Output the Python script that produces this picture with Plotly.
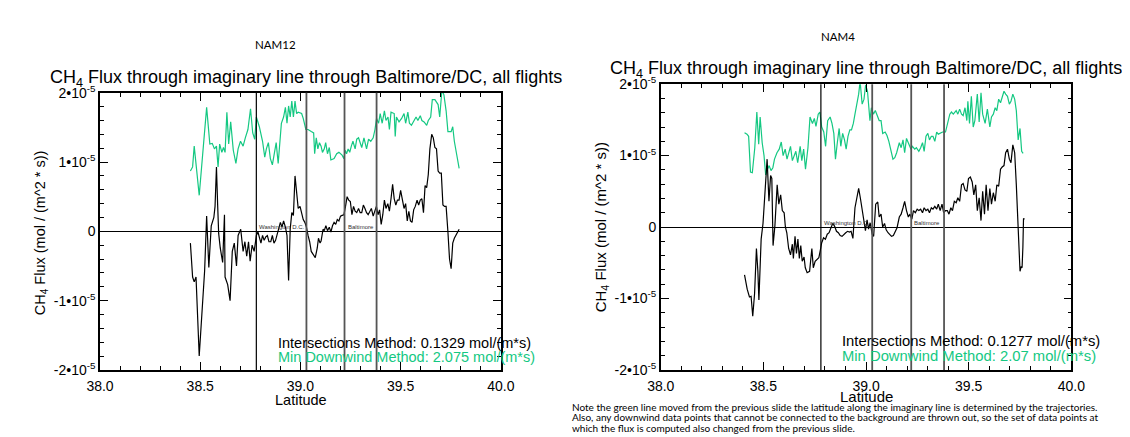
import plotly.graph_objects as go

W, H = 1130, 437
S = 1e-5

# ---------------- data (latitude, flux in units of 1e-5 mol/(m^2 s)) ----------------
lat_green_12 = [38.451,38.462,38.470,38.495,38.532,38.548,38.560,38.571,38.581,38.589,
                38.597,38.608,38.616,38.624,38.633,38.642,38.652,38.665,38.678,38.689,
                38.701,38.714,38.725,38.738,38.751,38.762,38.772,38.780,38.795,38.811,
                38.822,38.830,38.840,38.850,38.860,38.871,38.879,38.889,38.897,38.905,
                38.916,38.925,38.933,38.941,38.949,38.957,38.965,38.973,38.981,38.989,
                39.006,39.014,39.027,39.038,39.054,39.066,39.071,39.079,39.087,39.095,
                39.103,39.110,39.119,39.126,39.135,39.144,39.152,39.168,39.181,39.192,
                39.208,39.217,39.223,39.230,39.238,39.246,39.254,39.262,39.273,39.281,
                39.290,39.298,39.306,39.317,39.330,39.340,39.351,39.363,39.372,39.380,
                39.390,39.398,39.408,39.419,39.427,39.437,39.444,39.452,39.468,39.473,
                39.479,39.492,39.505,39.517,39.525,39.536,39.544,39.554,39.565,39.577,
                39.586,39.598,39.606,39.617,39.630,39.638,39.650,39.658,39.671,39.679,
                39.687,39.695,39.700,39.706,39.716,39.727,39.736,39.752,39.760,39.768,
                39.779,39.792]
val_green_12 = [0.87,0.93,1.23,0.52,1.79,1.26,1.27,1.19,1.23,0.93,
                1.26,1.14,1.21,1.14,1.72,1.26,1.58,1.17,0.98,1.19,
                1.30,1.23,1.35,1.47,1.77,1.42,1.33,1.65,1.51,1.30,
                1.07,1.19,1.28,1.05,0.96,1.14,1.28,0.98,1.33,1.56,
                1.65,1.79,1.56,1.81,1.65,1.88,1.65,1.88,1.70,1.72,
                1.70,1.63,1.47,1.47,1.44,1.42,1.12,1.35,1.19,1.28,
                1.23,1.14,1.19,1.28,1.12,1.21,1.03,1.05,1.12,1.14,
                1.10,1.05,1.17,1.12,1.19,1.14,1.23,1.30,1.19,1.33,
                1.35,1.28,1.21,1.35,1.19,1.33,1.30,1.35,1.47,1.63,
                1.56,1.70,1.56,1.74,1.60,1.65,1.47,1.72,1.70,1.37,
                1.65,1.58,1.63,1.70,1.56,1.72,1.56,1.53,1.58,1.65,
                1.60,1.67,1.60,1.58,1.53,1.60,1.65,1.90,1.90,1.86,
                1.83,1.65,1.86,2.04,1.97,1.74,1.44,1.44,1.51,1.30,
                1.12,0.91]

lat_black_12 = [38.451,38.462,38.470,38.479,38.495,38.511,38.522,38.532,38.543,38.555,
                38.568,38.574,38.581,38.587,38.592,38.600,38.612,38.621,38.624,38.637,
                38.649,38.660,38.670,38.681,38.689,38.702,38.714,38.723,38.732,38.741,
                38.749,38.759,38.769,38.775,38.780,38.788,38.795,38.803,38.811,38.819,
                38.827,38.835,38.843,38.852,38.860,38.868,38.876,38.884,38.892,38.900,
                38.908,38.916,38.925,38.933,38.941,38.949,38.957,38.965,38.973,38.981,
                38.989,38.998,39.006,39.014,39.022,39.030,39.038,39.046,39.054,39.064,
                39.074,39.084,39.090,39.098,39.103,39.113,39.119,39.127,39.135,39.144,
                39.152,39.160,39.168,39.176,39.184,39.192,39.200,39.208,39.217,39.225,
                39.233,39.241,39.249,39.257,39.265,39.273,39.281,39.290,39.298,39.306,
                39.314,39.322,39.330,39.338,39.346,39.354,39.363,39.371,39.379,39.387,
                39.395,39.403,39.411,39.419,39.427,39.436,39.444,39.452,39.460,39.468,
                39.476,39.484,39.492,39.500,39.509,39.517,39.525,39.533,39.541,39.549,
                39.557,39.565,39.573,39.582,39.590,39.598,39.606,39.614,39.622,39.630,
                39.638,39.646,39.655,39.663,39.671,39.679,39.687,39.695,39.703,39.711,
                39.719,39.727,39.736,39.744,39.752,39.760,39.768,39.776,39.784,39.792]
val_black_12 = [-0.17,-0.66,-0.73,-0.66,-1.80,-1.03,-0.57,0.22,-0.52,0.08,
                0.20,0.36,0.93,0.38,-0.03,-0.24,-0.45,0.24,-0.66,-0.77,
                -1.00,-0.29,-0.17,-0.50,-0.06,0.03,-0.29,-0.15,-0.36,-0.15,
                -0.43,-0.20,-0.29,-0.17,-0.06,-0.01,-0.10,-0.17,-0.06,-0.13,
                -0.08,-0.06,-0.15,-0.15,-0.06,-0.17,-0.13,-0.03,0.03,0.13,
                0.06,0.15,0.06,-0.06,-0.71,0.03,0.27,0.23,0.80,0.59,
                0.33,0.36,0.27,0.17,0.13,0.06,-0.06,-0.15,-0.29,-0.33,
                -0.38,-0.24,-0.10,-0.17,-0.14,0.03,0.01,0.08,0.01,0.06,
                -0.01,0.08,0.13,0.10,0.17,0.15,0.22,0.23,0.24,0.36,
                0.50,0.45,0.43,0.24,0.36,0.29,0.27,0.33,0.27,0.27,
                0.38,0.33,0.27,0.24,0.29,0.33,0.22,0.29,0.36,0.24,
                0.31,0.10,0.24,0.45,0.33,0.40,0.29,0.47,0.68,0.47,
                0.38,0.45,0.45,0.59,0.45,0.33,0.40,0.15,0.29,0.15,
                0.13,0.31,0.36,0.45,0.38,0.45,0.47,0.27,0.66,0.63,
                0.82,1.19,1.40,1.35,1.21,1.19,0.87,0.84,0.84,0.38,
                0.36,0.36,-0.01,-0.40,-0.54,-0.17,-0.10,-0.06,-0.01,0.03]

lat_green_4 = [38.408,38.420,38.428,38.437,38.446,38.458,38.468,38.477,38.484,38.494,
               38.503,38.511,38.520,38.528,38.537,38.546,38.554,38.566,38.577,38.587,
               38.596,38.606,38.615,38.623,38.632,38.641,38.649,38.658,38.667,38.679,
               38.687,38.696,38.705,38.717,38.727,38.739,38.748,38.756,38.767,38.775,
               38.784,38.794,38.803,38.813,38.825,38.834,38.843,38.851,38.860,38.869,
               38.877,38.886,38.895,38.903,38.912,38.921,38.929,38.938,38.946,38.955,
               38.964,38.971,38.981,38.990,38.998,39.007,39.019,39.026,39.036,39.045,
               39.055,39.064,39.073,39.081,39.093,39.102,39.111,39.119,39.131,39.140,
               39.149,39.162,39.171,39.180,39.188,39.197,39.206,39.219,39.226,39.237,
               39.245,39.257,39.266,39.275,39.283,39.292,39.301,39.309,39.318,39.326,
               39.335,39.344,39.352,39.361,39.373,39.387,39.396,39.408,39.416,39.425,
               39.439,39.447,39.456,39.465,39.473,39.482,39.491,39.496,39.504,39.513,
               39.522,39.530,39.542,39.551,39.560,39.568,39.580,39.591,39.603,39.611,
               39.620,39.629,39.637,39.646,39.655,39.663,39.672,39.680,39.689,39.698,
               39.706,39.715,39.724,39.732,39.741,39.750,39.758,39.765]
val_green_4 = [1.32,1.30,1.27,0.77,0.76,1.11,1.61,1.16,1.54,1.18,
               1.00,0.73,0.81,0.86,0.79,0.83,0.95,1.04,1.09,1.19,
               1.00,1.09,0.95,1.04,1.13,0.93,1.00,1.06,0.90,1.13,
               0.93,1.09,0.81,1.11,1.54,1.45,1.52,1.41,1.58,1.61,
               1.40,1.33,1.13,1.49,1.54,1.45,1.31,0.95,1.18,1.38,
               1.13,1.31,1.22,1.09,1.27,1.36,1.36,1.45,1.58,1.72,
               1.86,2.04,1.72,1.79,1.99,1.90,1.49,1.67,1.58,1.63,
               1.56,1.49,1.49,1.31,1.33,1.28,1.20,1.09,0.95,0.97,
               1.04,1.18,1.11,1.22,1.04,1.24,1.18,1.09,1.13,1.09,
               1.11,1.06,1.11,1.18,1.06,1.27,1.31,1.22,1.27,1.27,
               1.20,1.33,1.30,1.31,1.33,1.33,1.43,1.58,1.61,1.58,
               1.63,1.58,1.65,1.58,1.56,1.67,1.49,1.76,1.45,1.83,
               1.40,1.49,1.86,1.47,1.88,1.58,1.45,1.65,1.40,1.54,
               1.58,1.67,1.63,1.79,1.74,1.81,1.90,1.86,1.83,1.72,
               1.76,1.86,1.79,1.63,1.22,1.38,1.06,1.03]

lat_black_4 = [38.408,38.421,38.432,38.440,38.448,38.457,38.466,38.473,38.478,38.482,
               38.489,38.498,38.510,38.518,38.527,38.535,38.541,38.547,38.556,38.567,
               38.575,38.584,38.592,38.601,38.607,38.614,38.623,38.632,38.641,38.646,
               38.654,38.661,38.668,38.675,38.682,38.689,38.698,38.704,38.713,38.725,
               38.736,38.743,38.752,38.763,38.770,38.779,38.784,38.793,38.802,38.811,
               38.820,38.829,38.838,38.847,38.856,38.865,38.874,38.883,38.892,38.901,
               38.910,38.919,38.927,38.936,38.946,38.955,38.964,38.972,38.981,38.990,
               38.997,39.005,39.012,39.020,39.030,39.037,39.047,39.057,39.064,39.073,
               39.081,39.090,39.098,39.107,39.115,39.124,39.133,39.142,39.151,39.162,
               39.171,39.180,39.188,39.197,39.206,39.214,39.223,39.231,39.240,39.249,
               39.257,39.266,39.275,39.283,39.292,39.301,39.309,39.318,39.326,39.335,
               39.344,39.352,39.361,39.370,39.378,39.387,39.396,39.404,39.413,39.421,
               39.430,39.439,39.447,39.456,39.465,39.473,39.482,39.491,39.499,39.508,
               39.517,39.525,39.534,39.542,39.551,39.560,39.568,39.577,39.585,39.594,
               39.603,39.611,39.620,39.629,39.637,39.646,39.655,39.663,39.672,39.680,
               39.689,39.698,39.706,39.715,39.724,39.732,39.741,39.745,39.750,39.756,
               39.760,39.764,39.767,39.772]
val_black_4 = [-0.67,-0.87,-0.98,-0.97,-1.25,-0.93,-0.30,-0.62,-1.02,-0.67,
               -0.17,0.05,0.59,0.95,0.36,0.72,0.68,-0.26,0.02,0.59,
               0.32,0.45,0.23,0.20,0.00,-0.08,-0.30,-0.39,-0.24,-0.44,
               -0.13,-0.37,-0.17,-0.44,-0.26,-0.48,-0.42,-0.57,-0.64,-0.62,
               -0.30,-0.57,-0.48,-0.44,-0.43,-0.30,-0.22,-0.15,-0.17,-0.10,
               -0.08,-0.01,0.05,0.01,-0.06,-0.08,-0.12,-0.13,-0.10,-0.08,
               -0.06,-0.07,-0.06,-0.16,0.27,0.41,0.54,0.41,0.23,0.05,
               -0.05,0.10,-0.03,0.06,-0.10,-0.13,0.32,0.35,0.14,0.18,
               0.00,0.05,-0.04,-0.08,-0.10,-0.13,-0.12,-0.07,-0.01,0.14,
               0.18,0.27,0.36,0.23,0.14,0.18,0.11,0.23,0.20,0.25,
               0.23,0.25,0.20,0.27,0.23,0.25,0.20,0.27,0.25,0.29,
               0.25,0.32,0.23,0.32,0.20,0.23,0.23,0.18,0.27,0.23,
               0.36,0.34,0.41,0.36,0.59,0.61,0.52,0.50,0.68,0.70,
               0.63,0.45,0.59,0.23,0.41,0.09,0.50,0.18,0.59,0.23,
               0.54,0.32,0.48,0.36,0.59,0.57,0.81,0.84,0.86,1.04,
               1.09,0.95,0.90,1.15,1.04,0.59,0.00,-0.35,-0.62,-0.55,
               -0.57,-0.28,0.12,0.11]

line_lats = [38.78, 39.03, 39.22, 39.38]          # imaginary-line intersections
city_labels = ["Washington D.C.", "Baltimore"]
city_lats = [38.78, 39.22]
y_tick_vals = [-2, -1, 0, 1, 2]
y_tick_text = ["-2•10<sup>-5</sup>", "-1•10<sup>-5</sup>", "0", "1•10<sup>-5</sup>", "2•10<sup>-5</sup>"]
panel_names = ["NAM12", "NAM4"]
intersections_text = ["Intersections Method: 0.1329 mol/(m*s)", "Intersections Method: 0.1277 mol/(m*s)"]
downwind_text = ["Min Downwind Method: 2.075 mol/(m*s)", "Min Downwind Method: 2.07 mol/(m*s)"]
title_text = "CH<sub>4</sub> Flux through imaginary line through Baltimore/DC, all flights"
ytitle_text = "CH<sub>4</sub> Flux (mol / (m^2 * s))"
note_lines = [
    "Note the green line moved from the previous slide the latitude along the imaginary line is determined by the trajectories.",
    "Also, any downwind data points that cannot be connected to the background are thrown out, so the set of data points at",
    "which the flux is computed also changed from the previous slide.",
]

GREEN = "#14c882"
FONT = "Liberation Sans, Arial, Helvetica, sans-serif"

def px(x):
    return x / W

def py(y):
    return 1 - y / H

fig = go.Figure()

fig.add_trace(go.Scatter(x=lat_green_12, y=[v * S for v in val_green_12], mode="lines",
                         line=dict(color=GREEN, width=1.2), xaxis="x", yaxis="y", showlegend=False))
fig.add_trace(go.Scatter(x=lat_black_12, y=[v * S for v in val_black_12], mode="lines",
                         line=dict(color="black", width=1.2), xaxis="x", yaxis="y", showlegend=False))
fig.add_trace(go.Scatter(x=lat_green_4, y=[v * S for v in val_green_4], mode="lines",
                         line=dict(color=GREEN, width=1.2), xaxis="x2", yaxis="y2", showlegend=False))
fig.add_trace(go.Scatter(x=lat_black_4, y=[v * S for v in val_black_4], mode="lines",
                         line=dict(color="black", width=1.2), xaxis="x2", yaxis="y2", showlegend=False))

def xaxis(domain, anchor):
    return dict(domain=domain, anchor=anchor, range=[38, 40], tickmode="linear", tick0=38, dtick=0.5,
                tickformat=".1f", ticks="inside", ticklen=8, tickwidth=1, tickcolor="black",
                ticklabelstandoff=3,
                minor=dict(tickmode="linear", tick0=38, dtick=0.1, ticks="inside", ticklen=4,
                           tickcolor="black", tickwidth=1),
                showline=True, linecolor="black", linewidth=1.5, mirror="allticks",
                showgrid=False, zeroline=False,
                tickfont=dict(family=FONT, size=14, color="black"))

def yaxis(domain, anchor):
    return dict(domain=domain, anchor=anchor, range=[-2 * S, 2 * S], tickmode="array",
                tickvals=[v * S for v in y_tick_vals], ticktext=y_tick_text,
                ticks="inside", ticklen=8, tickwidth=1, tickcolor="black",
                minor=dict(tickmode="linear", tick0=0, dtick=0.2 * S, ticks="inside", ticklen=4,
                           tickcolor="black", tickwidth=1),
                showline=True, linecolor="black", linewidth=1.5, mirror="allticks",
                showgrid=False, zeroline=True, zerolinecolor="black", zerolinewidth=1,
                tickfont=dict(family=FONT, size=14, color="black"))

fig.update_layout(
    width=W, height=H, margin=dict(l=0, r=0, t=0, b=0),
    paper_bgcolor="white", plot_bgcolor="white",
    xaxis=xaxis([px(80), px(491)], "y"),
    yaxis=yaxis([py(367), py(78)], "x"),
    xaxis2=xaxis([px(655), px(1076)], "y2"),
    yaxis2=yaxis([py(367), py(69)], "x2"),
)

shapes = []
for xr, yr in (("x", "y domain"), ("x2", "y2 domain")):
    for i, lat in enumerate(line_lats):
        shapes.append(dict(type="line", xref=xr, yref=yr, x0=lat, x1=lat, y0=0, y1=1,
                           line=dict(color="black" if i == 0 else "#555555", width=1.2 if i == 0 else 1.8)))
fig.update_layout(shapes=shapes)

ann = []
def text(x, y, t, size, color="black", xanchor="left", family=FONT, angle=0):
    ann.append(dict(x=px(x), y=py(y), xref="paper", yref="paper", text=t, showarrow=False,
                    xanchor=xanchor, yanchor="middle", textangle=angle,
                    font=dict(family=family, size=size, color=color)))

# panel names
text(260, 28, panel_names[0], 11.5, xanchor="center", family="Lato, sans-serif")
text(837, 19, panel_names[1], 11.5, xanchor="center", family="Lato, sans-serif")
# titles
text(27, 63, title_text, 18)
text(601, 54, title_text, 18)
# y titles
text(19, 224, ytitle_text, 14.5, xanchor="center", angle=-90)
text(594, 218, ytitle_text, 15, xanchor="center", angle=-90)
# x titles
text(286, 398, "Latitude", 14.5, xanchor="center")
text(866, 395, "Latitude", 15, xanchor="center")
# method annotations
text(260, 339, intersections_text[0], 14.5)
text(260, 354, downwind_text[0], 14.5, color=GREEN)
text(839, 337, intersections_text[1], 14.8)
text(839, 352, downwind_text[1], 14.8, color=GREEN)
# city labels
for xr, yr in (("x", "y"), ("x2", "y2")):
    for lab, lat in zip(city_labels, city_lats):
        ann.append(dict(x=lat, y=0, xref=xr, yref=yr, text=lab, showarrow=False,
                        xanchor="left", yanchor="bottom", xshift=1, yshift=-1,
                        font=dict(family=FONT, size=6, color="#333333")))
# note
for i, line in enumerate(note_lines):
    text(562, 405.5 + 11 * i, line, 10, family="Lato, sans-serif")

fig.update_layout(annotations=ann)
fig.write_html("out.html")
